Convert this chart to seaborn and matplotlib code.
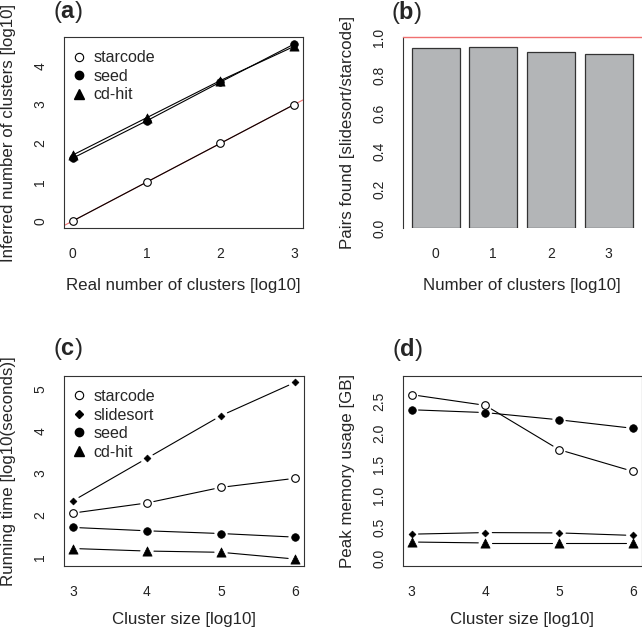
import numpy as np
import matplotlib
matplotlib.use('Agg')
import matplotlib.pyplot as plt
from matplotlib.lines import Line2D
import seaborn as sns

# (a) inferred vs real number of clusters (log10)
real_clusters = [0, 1, 2, 3]
inferred_starcode = [0.0, 1.0, 2.0, 3.0]
inferred_seed = [1.62, 2.58, 3.58, 4.56]
inferred_cdhit = [1.70, 2.66, 3.62, 4.50]

# (b) pairs found, slidesort / starcode
bar_labels = ['0', '1', '2', '3']
pairs_ratio = [0.94, 0.95, 0.92, 0.91]

# (c) running time [log10(seconds)]
cluster_size = [3, 4, 5, 6]
time_starcode = [2.05, 2.29, 2.66, 2.875]
time_slidesort = [2.34, 3.35, 4.36, 5.15]
time_seed = [1.71, 1.63, 1.565, 1.48]
time_cdhit = [1.21, 1.15, 1.12, 0.96]

# (d) peak memory [GB]
mem_starcode = [2.61, 2.44, 1.735, 1.39]
mem_seed = [2.37, 2.325, 2.21, 2.075]
mem_slidesort = [0.39, 0.415, 0.41, 0.37]
mem_cdhit = [0.265, 0.25, 0.25, 0.25]

sns.set_style('white')
plt.rcParams['font.family'] = ['Liberation Sans', 'DejaVu Sans']
plt.rcParams['mathtext.fontset'] = 'custom'
plt.rcParams['mathtext.bf'] = 'Liberation Sans:bold'
plt.rcParams['mathtext.rm'] = 'Liberation Sans'

RED = '#f07070'
LW = 0.8
LABEL_FS = 12.2
TICK_FS = 10
LEG_FS = 11.6

# marker look, roughly R pch 1, 16, 17, 18
STYLES = {
    'starcode': dict(marker='o', s=30, facecolors='white', edgecolors='black', linewidths=0.8),
    'seed': dict(marker='o', s=30, color='black', edgecolors='black', linewidths=0.5),
    'cd-hit': dict(marker='^', s=44, color='black', edgecolors='black', linewidths=0.5),
    'slidesort': dict(marker='D', s=12, color='black', edgecolors='black', linewidths=0.5),
}
LEG = {
    'starcode': dict(marker='o', markersize=6, markerfacecolor='white', markeredgecolor='black', markeredgewidth=0.8),
    'seed': dict(marker='o', markersize=6, markerfacecolor='black', markeredgecolor='black'),
    'cd-hit': dict(marker='^', markersize=7, markerfacecolor='black', markeredgecolor='black'),
    'slidesort': dict(marker='D', markersize=3.6, markerfacecolor='black', markeredgecolor='black'),
}

fig = plt.figure(figsize=(6.42, 6.31), dpi=100)
W, H = 642.0, 631.0


def add_ax(left, top, right, bottom):
    return fig.add_axes([left / W, 1 - bottom / H, (right - left) / W, (bottom - top) / H])


def style_axis(ax):
    ax.tick_params(direction='out', length=6, width=0.8, labelsize=TICK_FS, pad=8,
                   color='#333333', labelcolor='#222222')
    ax.tick_params(axis='y', labelrotation=90, pad=6)
    for lab in ax.get_yticklabels():
        lab.set_va('center')
    for sp in ax.spines.values():
        sp.set_linewidth(0.8)
        sp.set_color('#333333')


def gapped_line(ax, x, y, gap=7.0):
    # R type="b": segments stop short of the points
    pts = ax.transData.transform(np.column_stack([x, y]))
    inv = ax.transData.inverted()
    for p0, p1 in zip(pts[:-1], pts[1:]):
        d = p1 - p0
        n = np.hypot(*d)
        if n <= 2 * gap:
            continue
        u = d / n
        a = inv.transform(p0 + u * gap)
        b = inv.transform(p1 - u * gap)
        ax.plot([a[0], b[0]], [a[1], b[1]], color='black', lw=LW, zorder=2)


def legend(ax, names, ys):
    handles = [Line2D([], [], linestyle='none', **LEG[n]) for n in names]
    ax.legend(handles, names, loc='upper left', frameon=False, fontsize=LEG_FS,
              handlelength=0.9, handletextpad=0.5, labelspacing=0.22,
              borderaxespad=0.0, borderpad=0.45, bbox_to_anchor=(0.0, ys))


def panel_label(cx, cy, letter):
    fig.text(cx / W, 1 - cy / H, r'($\mathbf{%s}$)' % letter, fontsize=17,
             ha='center', va='center')


# ---- (a)
ax = add_ax(64, 37, 303, 228)
ax.set_xlim(-0.12, 3.12)
ax.set_ylim(-0.1824, 4.7424)
ax.axline((0, 0), slope=1, color=RED, lw=LW, zorder=1)
sns.lineplot(x=real_clusters, y=inferred_starcode, color='black', lw=LW, ax=ax, zorder=2)
sns.lineplot(x=real_clusters, y=inferred_seed, color='black', lw=LW, ax=ax, zorder=2)
sns.lineplot(x=real_clusters, y=inferred_cdhit, color='black', lw=LW, ax=ax, zorder=2)
sns.scatterplot(x=real_clusters, y=inferred_starcode, ax=ax, zorder=3, **STYLES['starcode'])
sns.scatterplot(x=real_clusters, y=inferred_seed, ax=ax, zorder=3, **STYLES['seed'])
sns.scatterplot(x=real_clusters, y=inferred_cdhit, ax=ax, zorder=3, **STYLES['cd-hit'])
ax.set_xticks(real_clusters)
ax.set_yticks([0, 1, 2, 3, 4])
style_axis(ax)
legend(ax, ['starcode', 'seed', 'cd-hit'], 0.968)
ax.set_xlabel('Real number of clusters [log10]', fontsize=LABEL_FS)
ax.set_ylabel('Inferred number of clusters [log10]', fontsize=LABEL_FS)
ax.xaxis.set_label_coords(0.5, -0.26)
ax.yaxis.set_label_coords(-0.2, 0.5)
panel_label(67.5, 12, 'a')

# ---- (b)
ax = add_ax(402.7, 37, 641.6, 228)
sns.barplot(x=bar_labels, y=pairs_ratio, color='#b3b5b7', saturation=1, width=1 / 1.2,
            edgecolor='#333333', linewidth=0.9, ax=ax, zorder=2)
ax.set_xlim(-0.57, 3.57)
ax.set_ylim(0, 1.0)
ax.axhline(1.0, color=RED, lw=1.0, zorder=4, clip_on=False)
ax.set_yticks([0, 0.2, 0.4, 0.6, 0.8, 1.0])
ax.set_yticklabels(['0.0', '0.2', '0.4', '0.6', '0.8', '1.0'])
style_axis(ax)
ax.tick_params(axis='x', length=0, pad=14)
for k in ['top', 'right', 'bottom']:
    ax.spines[k].set_visible(False)
ax.set_xlabel('Number of clusters [log10]', fontsize=LABEL_FS)
ax.set_ylabel('Pairs found [slidesort/starcode]', fontsize=LABEL_FS)
ax.xaxis.set_label_coords(0.5, -0.26)
ax.yaxis.set_label_coords(-0.2, 0.5)
panel_label(406, 12, 'b')

# ---- (c)
ax = add_ax(64, 375.7, 304, 565.7)
ax.set_xlim(2.88, 6.12)
ax.set_ylim(0.8024, 5.3076)
for ys, name in [(time_starcode, 'starcode'), (time_slidesort, 'slidesort'),
                 (time_seed, 'seed'), (time_cdhit, 'cd-hit')]:
    gapped_line(ax, cluster_size, ys)
    sns.scatterplot(x=cluster_size, y=ys, ax=ax, zorder=3, **STYLES[name])
ax.set_xticks(cluster_size)
ax.set_yticks([1, 2, 3, 4, 5])
style_axis(ax)
legend(ax, ['starcode', 'slidesort', 'seed', 'cd-hit'], 0.968)
ax.set_xlabel('Cluster size [log10]', fontsize=LABEL_FS)
ax.set_ylabel('Running time [log10(seconds)]', fontsize=LABEL_FS)
ax.xaxis.set_label_coords(0.5, -0.245)
ax.yaxis.set_label_coords(-0.2, 0.5)
panel_label(67.5, 349, 'c')

# ---- (d)
ax = add_ax(402.7, 375.7, 641.6, 565.7)
ax.set_xlim(2.88, 6.12)
ax.set_ylim(-0.112, 2.912)
for ys, name in [(mem_starcode, 'starcode'), (mem_seed, 'seed'),
                 (mem_slidesort, 'slidesort'), (mem_cdhit, 'cd-hit')]:
    gapped_line(ax, cluster_size, ys)
    sns.scatterplot(x=cluster_size, y=ys, ax=ax, zorder=3, **STYLES[name])
ax.set_xticks(cluster_size)
ax.set_yticks([0, 0.5, 1.0, 1.5, 2.0, 2.5])
ax.set_yticklabels(['0.0', '0.5', '1.0', '1.5', '2.0', '2.5'])
style_axis(ax)
ax.set_xlabel('Cluster size [log10]', fontsize=LABEL_FS)
ax.set_ylabel('Peak memory usage [GB]', fontsize=LABEL_FS)
ax.xaxis.set_label_coords(0.5, -0.245)
ax.yaxis.set_label_coords(-0.2, 0.5)
panel_label(407.5, 349, 'd')

fig.savefig('out.png', dpi=100)
plt.close(fig)
